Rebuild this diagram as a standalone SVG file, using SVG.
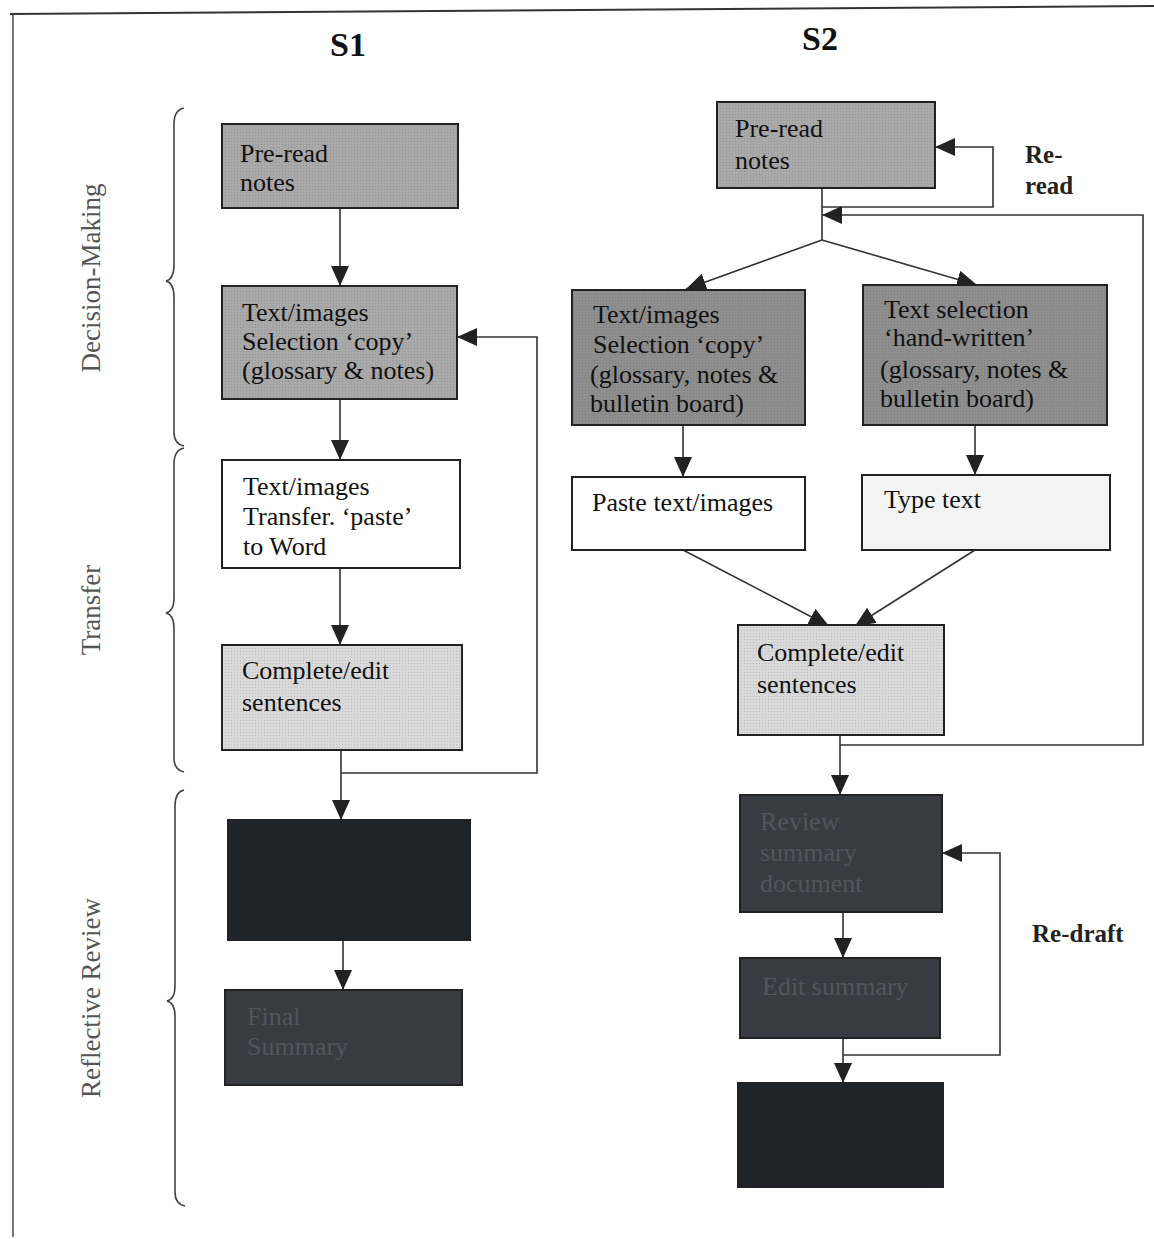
<svg xmlns="http://www.w3.org/2000/svg" width="1154" height="1239" viewBox="0 0 1154 1239">
<defs>
<marker id="ah" markerUnits="userSpaceOnUse" markerWidth="20" markerHeight="18" refX="20" refY="9" orient="auto">
<path d="M0,0 L20,9 L0,18 z" fill="#222"/>
</marker>
<pattern id="stip" width="3" height="3" patternUnits="userSpaceOnUse">
<rect width="3" height="3" fill="none"/>
<rect width="1" height="1" fill="#000" fill-opacity="0.12"/>
</pattern>
</defs>
<style>
.bx{stroke:#222;stroke-width:2}
.mid{fill:#a9a9a9}
.dk{fill:#8e8e8e}
.lt{fill:#d9d9d9}
.wh{fill:#ffffff}
.vl{fill:#f3f3f3}
.nv{fill:#1f232a}
.nv2{fill:#383b42}
.t{font-family:"Liberation Serif","Times New Roman",serif;font-size:26px;fill:#111}
.td{font-family:"Liberation Serif","Times New Roman",serif;font-size:26px;fill:#52565d}
.h{font-family:"Liberation Serif","Times New Roman",serif;font-size:34px;font-weight:bold;fill:#111}
.b{font-family:"Liberation Serif","Times New Roman",serif;font-size:25px;font-weight:bold;fill:#222}
.side{font-family:"Liberation Serif","Times New Roman",serif;font-size:27px;fill:#555}
.c{fill:none;stroke:#333;stroke-width:1.6}
.br{fill:none;stroke:#444;stroke-width:1.6}
</style>
<rect width="1154" height="1239" fill="#fff"/>
<g id="frame">
<line x1="10" y1="14" x2="1154" y2="6" stroke="#333" stroke-width="2"/>
<line x1="13" y1="14" x2="13" y2="1237" stroke="#555" stroke-width="1.6"/>
</g>
<g id="headers">
<text class="h" x="348" y="56" text-anchor="middle">S1</text>
<text class="h" x="820" y="50" text-anchor="middle">S2</text>
</g>
<g id="phases">
<path class="br" d="M184,108 Q174,110 174,124 L174,265 Q174,279 166,281 Q174,283 174,297 L174,432 Q174,444 184,446"/>
<text class="side" transform="translate(100,278) rotate(-90)" text-anchor="middle">Decision-Making</text>
<path class="br" d="M184,448 Q174,450 174,464 L174,598 Q174,611 166,613 Q174,615 174,628 L174,758 Q174,770 184,772"/>
<text class="side" transform="translate(100,610) rotate(-90)" text-anchor="middle">Transfer</text>
<path class="br" d="M184,790 Q175,792 175,806 L175,986 Q175,999 167,1001 Q175,1003 175,1016 L175,1192 Q175,1204 185,1206"/>
<text class="side" transform="translate(100,998) rotate(-90)" text-anchor="middle">Reflective Review</text>
</g>
<g id="connectors">
<line class="c" x1="340" y1="208" x2="340" y2="286" marker-end="url(#ah)"/>
<line class="c" x1="340" y1="399" x2="340" y2="460" marker-end="url(#ah)"/>
<line class="c" x1="340" y1="568" x2="340" y2="645" marker-end="url(#ah)"/>
<line class="c" x1="341" y1="750" x2="341" y2="820" marker-end="url(#ah)"/>
<polyline class="c" points="341,773 537,773 537,337 457,337" marker-end="url(#ah)"/>
<line class="c" x1="343" y1="940" x2="343" y2="990" marker-end="url(#ah)"/>
<polyline class="c" points="822,188 822,207 993,207 993,147 935,147" marker-end="url(#ah)"/>
<polyline class="c" points="840,735 840,745 1143,745 1143,215 822,215" marker-end="url(#ah)"/>
<line class="c" x1="822" y1="207" x2="822" y2="240"/>
<line class="c" x1="822" y1="240" x2="686" y2="289" marker-end="url(#ah)"/>
<line class="c" x1="822" y1="240" x2="977" y2="285" marker-end="url(#ah)"/>
<line class="c" x1="683" y1="425" x2="683" y2="477" marker-end="url(#ah)"/>
<line class="c" x1="975" y1="425" x2="975" y2="475" marker-end="url(#ah)"/>
<line class="c" x1="683" y1="550" x2="829" y2="626" marker-end="url(#ah)"/>
<line class="c" x1="975" y1="550" x2="855" y2="626" marker-end="url(#ah)"/>
<line class="c" x1="840" y1="745" x2="840" y2="795" marker-end="url(#ah)"/>
<line class="c" x1="843" y1="912" x2="843" y2="958" marker-end="url(#ah)"/>
<line class="c" x1="843" y1="1038" x2="843" y2="1083" marker-end="url(#ah)"/>
<polyline class="c" points="843,1055 1000,1055 1000,853 942,853" marker-end="url(#ah)"/>
</g>
<g id="s1-preread">
<rect class="bx mid" x="222" y="124" width="236" height="84"/>
<rect x="222" y="124" width="236" height="84" fill="url(#stip)"/>
<text class="t" x="240" y="162">Pre-read</text>
<text class="t" x="240" y="191">notes</text>
</g>
<g id="s1-select">
<rect class="bx mid" x="222" y="286" width="235" height="113"/>
<rect x="222" y="286" width="235" height="113" fill="url(#stip)"/>
<text class="t" x="242" y="321">Text/images</text>
<text class="t" x="242" y="350">Selection ‘copy’</text>
<text class="t" x="242" y="379">(glossary &amp; notes)</text>
</g>
<g id="s1-transfer">
<rect class="bx wh" x="222" y="460" width="238" height="108"/>
<text class="t" x="243" y="495">Text/images</text>
<text class="t" x="243" y="525">Transfer. ‘paste’</text>
<text class="t" x="243" y="555">to Word</text>
</g>
<g id="s1-complete">
<rect class="bx lt" x="222" y="645" width="240" height="105"/>
<rect x="222" y="645" width="240" height="105" fill="url(#stip)"/>
<text class="t" x="242" y="679">Complete/edit</text>
<text class="t" x="242" y="711">sentences</text>
</g>
<g id="s1-review">
<rect class="bx nv" x="228" y="820" width="242" height="120"/>
</g>
<g id="s1-final">
<rect class="bx nv2" x="225" y="990" width="237" height="95"/>
<text class="td" x="247" y="1025">Final</text>
<text class="td" x="247" y="1055">Summary</text>
</g>
<g id="s2-preread">
<rect class="bx mid" x="717" y="102" width="218" height="86"/>
<rect x="717" y="102" width="218" height="86" fill="url(#stip)"/>
<text class="t" x="735" y="137">Pre-read</text>
<text class="t" x="735" y="169">notes</text>
</g>
<g id="s2-reread-label">
<text class="b" x="1025" y="163">Re-</text>
<text class="b" x="1025" y="194">read</text>
</g>
<g id="s2-copy">
<rect class="bx dk" x="572" y="290" width="233" height="135"/>
<rect x="572" y="290" width="233" height="135" fill="url(#stip)"/>
<text class="t" x="593" y="323">Text/images</text>
<text class="t" x="593" y="353">Selection ‘copy’</text>
<text class="t" x="590" y="383">(glossary, notes &amp;</text>
<text class="t" x="590" y="412">bulletin board)</text>
</g>
<g id="s2-handwritten">
<rect class="bx dk" x="863" y="285" width="244" height="140"/>
<rect x="863" y="285" width="244" height="140" fill="url(#stip)"/>
<text class="t" x="884" y="318">Text selection</text>
<text class="t" x="884" y="346">‘hand-written’</text>
<text class="t" x="880" y="378">(glossary, notes &amp;</text>
<text class="t" x="880" y="407">bulletin board)</text>
</g>
<g id="s2-paste">
<rect class="bx wh" x="572" y="477" width="233" height="73"/>
<text class="t" x="592" y="511">Paste text/images</text>
</g>
<g id="s2-type">
<rect class="bx vl" x="862" y="475" width="248" height="75"/>
<text class="t" x="884" y="508">Type text</text>
</g>
<g id="s2-complete">
<rect class="bx lt" x="738" y="625" width="206" height="110"/>
<rect x="738" y="625" width="206" height="110" fill="url(#stip)"/>
<text class="t" x="757" y="661">Complete/edit</text>
<text class="t" x="757" y="693">sentences</text>
</g>
<g id="s2-review">
<rect class="bx nv2" x="740" y="795" width="202" height="117"/>
<text class="td" x="760" y="830">Review</text>
<text class="td" x="760" y="861">summary</text>
<text class="td" x="760" y="892">document</text>
</g>
<g id="s2-edit">
<rect class="bx nv2" x="740" y="958" width="200" height="80"/>
<text class="td" x="762" y="995">Edit summary</text>
</g>
<g id="s2-final">
<rect class="bx nv" x="738" y="1083" width="205" height="104"/>
</g>
<g id="s2-redraft-label">
<text class="b" x="1032" y="942">Re-draft</text>
</g>
</svg>
